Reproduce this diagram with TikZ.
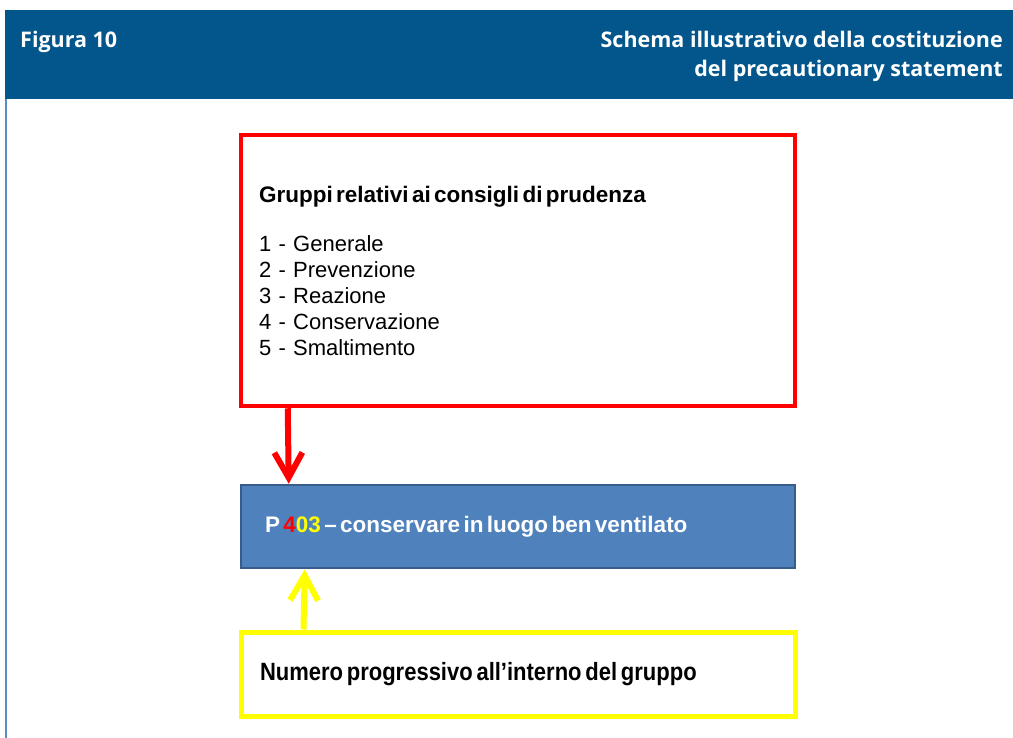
\documentclass[tikz,border=0pt]{standalone}
\usepackage{fontspec}
\setmainfont{Liberation Sans}
\newfontfamily\headfont{Open Sans}
\newfontfamily\narrowfont{Liberation Sans}[FakeStretch=0.88]
\usetikzlibrary{arrows.meta,positioning}
\definecolor{headblue}{HTML}{02568C}
\definecolor{lineblue}{HTML}{5A8DC2}
\definecolor{codefill}{HTML}{4F81BD}
\definecolor{codeedge}{HTML}{385D8A}
\definecolor{pyellow}{HTML}{FFFF00}
\newcommand{\tightsp}{\spaceskip=0.15em plus 0.05em\relax}
\begin{document}
\begin{tikzpicture}[x=1pt, y=-1pt,
  every node/.style={font=\fontsize{22}{26}\selectfont},
  box/.style={rectangle, minimum width=554pt, align=left},
  headtxt/.style={text=white, inner sep=0pt, font=\headfont\bfseries\fontsize{21.5}{29}\selectfont},
  link/.style={line width=6pt, -{Straight Barb[length=25pt, width=28pt]}}]
  \useasboundingbox (0,0) rectangle (1013,738);

  % header
  \fill[headblue] (5,10) rectangle (1013,99);
  \draw[lineblue, line width=1.6pt] (5.8,99) -- (5.8,738);
  \node[headtxt, anchor=west] (fig) at (20,42) {Figura 10};
  \node[headtxt, anchor=east, align=right] (title) at (1003,56.5)
    {Schema illustrativo della costituzione\\del precautionary statement};

  % boxes
  \node[box, draw=red, line width=4.5pt, minimum height=271pt,
        inner xsep=18pt, text width=518pt] (grp) at (518,270.5)
    {{\bfseries\fontsize{22.5}{26}\selectfont\tightsp Gruppi relativi ai consigli di prudenza}\\[23pt]
     1 - Generale\\
     2 - Prevenzione\\
     3 - Reazione\\
     4 - Conservazione\\
     5 - Smaltimento};
  \node[box, fill=codefill, draw=codeedge, line width=2.5pt, minimum height=83pt,
        inner xsep=24pt, text width=506pt, text=white] (code) at (518,526.5)
    {\bfseries\fontsize{22.5}{26}\selectfont\tightsp P \textcolor{red}{4}\textcolor{pyellow}{03} – conservare in luogo ben ventilato};
  \node[box, draw=pyellow, line width=5pt, minimum height=84pt,
        inner xsep=19pt, text width=516pt] (num) at (518,674)
    {\narrowfont\bfseries\fontsize{25}{28}\selectfont\tightsp Numero progressivo all’interno del gruppo};

  % arrows
  \draw[link, red] ([xshift=49pt]grp.south west) -- ([xshift=49pt]code.north west);
  \draw[link, pyellow] ([xshift=65pt]num.north west) -- ([xshift=65pt]code.south west);
\end{tikzpicture}
\end{document}
